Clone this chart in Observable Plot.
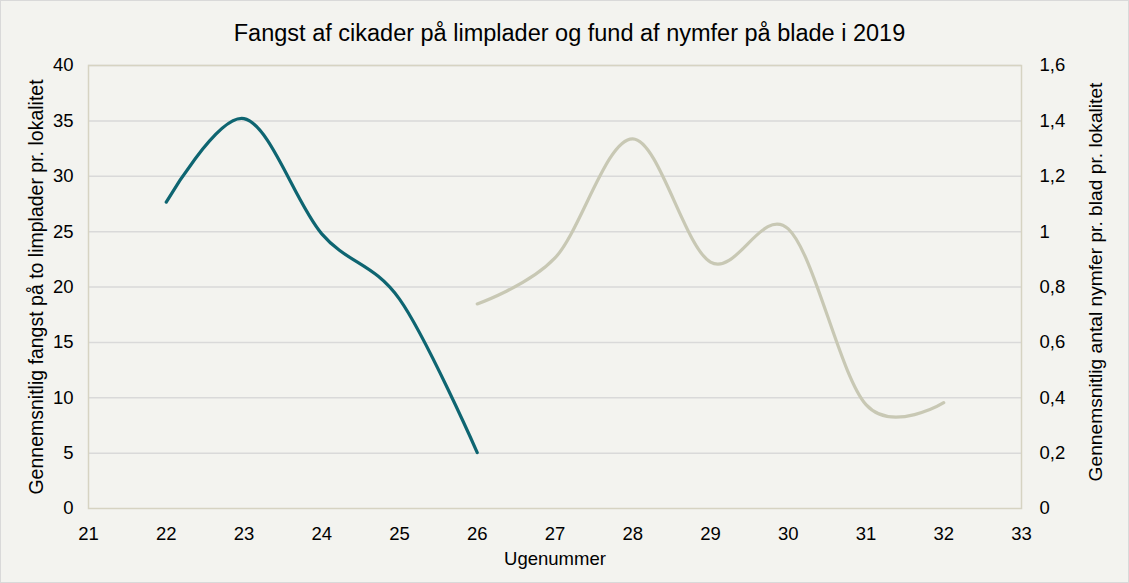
<!DOCTYPE html>
<html>
<head>
<meta charset="utf-8">
<script src="https://cdn.jsdelivr.net/npm/d3@7"></script>
<script src="https://cdn.jsdelivr.net/npm/@observablehq/plot@0.6"></script>
<style>
  html, body { margin: 0; padding: 0; background: #ffffff; }
  #chart {
    position: relative; width: 1129px; height: 583px; box-sizing: border-box;
    border: 1px solid #d9d9d9; background: #f3f3ef;
    font-family: "Liberation Sans", Arial, sans-serif; color: #000;
  }
  #title {
    box-sizing: border-box; height: 51px; padding-top: 21px;
    font-size: 23.5px; line-height: 23px; text-align: center; padding-left: 10px;
    white-space: nowrap;
  }
  #chart svg { display: block; background: transparent; }
</style>
</head>
<body>
<div id="chart"><div id="title">Fangst af cikader på limplader og fund af nymfer på blade i 2019</div></div>
<script>
// ---- data ----
const title = "Fangst af cikader på limplader og fund af nymfer på blade i 2019";
const weeksCatch = [22, 23, 24, 25, 26];
const catchValues = [27.66, 35.2, 24.8, 18.9, 5.05];          // left axis
const weeksNymph = [26, 27, 28, 29, 30, 31, 32];
const nymphValues = [0.739, 0.905, 1.335, 0.89, 1.01, 0.375, 0.382]; // right axis
const xTicks = [21, 22, 23, 24, 25, 26, 27, 28, 29, 30, 31, 32, 33];
const leftTicks = [0, 5, 10, 15, 20, 25, 30, 35, 40];
const rightTicks = [0, 0.2, 0.4, 0.6, 0.8, 1.0, 1.2, 1.4, 1.6];
const leftLabel = "Gennemsnitlig fangst på to limplader pr. lokalitet";
const rightLabel = "Gennemsnitlig antal nymfer pr. blad pr. lokalitet";
const xLabel = "Ugenummer";

const scaleFactor = 40 / 1.6; // right axis -> left axis units
const catchData = weeksCatch.map((w, i) => ({week: w, value: catchValues[i]}));
const nymphData = weeksNymph.map((w, i) => ({week: w, value: nymphValues[i] * scaleFactor}));
const fmtRight = d => String(Math.round(d / scaleFactor * 10) / 10).replace(".", ",");

const chart = Plot.plot({
  width: 1127,
  height: 530,
  marginTop: 13,
  marginBottom: 74,
  marginLeft: 87,
  marginRight: 107,
  style: {fontFamily: "'Liberation Sans', Arial, sans-serif", fontSize: "18px", color: "#000", background: "transparent"},
  x: {domain: [21, 33]},
  y: {domain: [0, 40]},
  marks: [
    Plot.gridY(leftTicks.slice(1), {stroke: "#d9d9d9", strokeOpacity: 1, strokeWidth: 1.5}),
    Plot.frame({stroke: "#d6d3c2", strokeWidth: 1.5}),
    Plot.axisX(xTicks, {tickSize: 0, tickPadding: 18, label: null, fontSize: 18.5}),
    Plot.axisY(leftTicks, {anchor: "left", tickSize: 0, tickPadding: 15, label: null, fontSize: 18.5}),
    Plot.axisY(rightTicks.map(v => v * scaleFactor), {anchor: "right", tickSize: 0, tickPadding: 18, label: null, fontSize: 18.5, tickFormat: fmtRight}),
    Plot.text([leftLabel], {frameAnchor: "left", rotate: -90, dx: -52, fontSize: 19.5, textAnchor: "middle", lineAnchor: "middle"}),
    Plot.text([rightLabel], {frameAnchor: "right", rotate: -90, dx: 74, dy: -5, fontSize: 19.2, textAnchor: "middle", lineAnchor: "middle"}),
    Plot.text([xLabel], {frameAnchor: "bottom", dy: 51, fontSize: 18.5, textAnchor: "middle", lineAnchor: "middle"}),
    Plot.line(catchData, {x: "week", y: "value", curve: "cardinal", stroke: "#0e6571", strokeWidth: 3.2}),
    Plot.line(nymphData, {x: "week", y: "value", curve: "cardinal", stroke: "#c8c8b4", strokeWidth: 3.2})
  ]
});
document.getElementById("chart").appendChild(chart);
</script>
</body>
</html>
